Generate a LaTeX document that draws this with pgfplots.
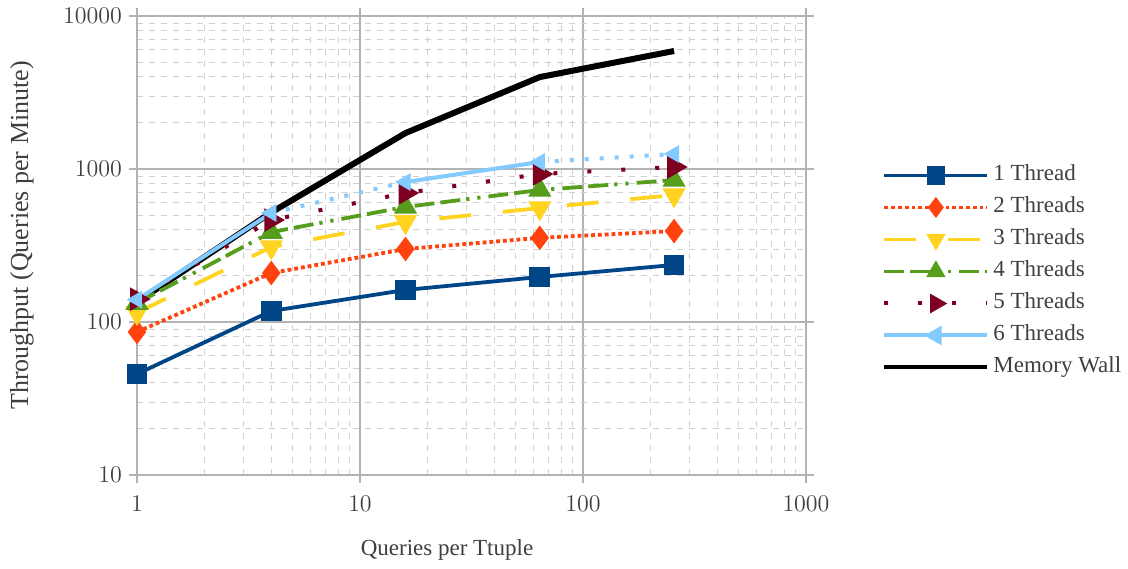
\documentclass[border=0pt]{standalone}
\usepackage{fontspec}
\setmainfont{Liberation Serif}
\usepackage{pgfplots}
\pgfplotsset{compat=1.18}
\definecolor{cA}{HTML}{004586}
\definecolor{cB}{HTML}{FF420E}
\definecolor{cC}{HTML}{FFD320}
\definecolor{cD}{HTML}{579D1C}
\definecolor{cE}{HTML}{7E0021}
\definecolor{cF}{HTML}{83CAFF}
\definecolor{txt}{HTML}{3F3F3F}
\definecolor{gridc}{HTML}{B3B3B3}
\definecolor{mgrid}{HTML}{D0D0D0}
\begin{document}
\begin{tikzpicture}
\useasboundingbox (-68.5pt,-46.5pt) rectangle (495.5pt,237.5pt);
\begin{axis}[
  at={(0,0)}, anchor=south west, scale only axis,
  width=334.5pt, height=229.5pt,
  xmode=log, ymode=log,
  xmin=1, xmax=1000, ymin=10, ymax=10000,
  log ticks with fixed point,
  /pgf/number format/1000 sep={},
  xtick={1,10,100,1000}, ytick={10,100,1000,10000},
  grid=both,
  major grid style={gridc, line width=0.6pt},
  minor grid style={mgrid, dashed, line width=0.5pt},
  axis line style={gridc, line width=0.6pt},
  tick style={gridc, line width=0.6pt},
  tick align=outside, major tick length=4pt, minor tick length=0pt,
  ticklabel style={font=\fontsize{11.5}{13}\selectfont, text=txt},
  xticklabel style={yshift=-3pt},
  xlabel={Queries per Ttuple},
  ylabel={Throughput (Queries per Minute)},
  every axis x label/.style={at={(axis description cs:0.4634,-0.1634)}, anchor=center, font=\fontsize{11.5}{13}\selectfont, text=txt},
  every axis y label/.style={at={(axis description cs:-0.172,0.5218)}, rotate=90, anchor=center, font=\fontsize{13}{15}\selectfont, text=txt},
  legend image code/.code={\draw[mark repeat=2,mark phase=2,#1, mark size=3.7pt] plot coordinates {(0pt,0pt) (25.75pt,0pt) (51.5pt,0pt)};},
  legend style={at={(axis description cs:1.1136,0.4434)}, anchor=west, draw=none, fill=none,
    inner sep=0pt, row sep=5.5pt, column sep=2pt,
    font=\fontsize{11.5}{13}\selectfont, text=txt,
    nodes={inner sep=0pt, text height=8pt, text depth=2.5pt}},
  legend cell align=left,
]
% Memory wall drawn first (beneath)
\addplot[black, line width=3pt, mark=none, forget plot] coordinates {(1,135) (4,520) (16,1718) (64,3990) (256,5906)};

\addplot[cA, line width=1.9pt, mark=square*, mark size=4.2pt, mark options={solid}] coordinates {(1,45.7) (4,118) (16,162) (64,197) (256,236)};
\addlegendentry{1 Thread}

\addplot[cB, line width=1.9pt, dash pattern=on 1.9pt off 1.5pt, mark=diamond*, mark size=4.6pt, mark options={solid}] coordinates {(1,86) (4,209) (16,300) (64,355) (256,393)};
\addlegendentry{2 Threads}

\addplot[cC, line width=1.9pt, dash pattern=on 16pt off 16pt, mark=triangle*, mark size=4.8pt, mark options={solid, rotate=180}] coordinates {(1,115) (4,309) (16,451) (64,556) (256,676)};
\addlegendentry{3 Threads}

\addplot[cD, line width=1.9pt, dash pattern=on 10pt off 3pt on 10pt off 3pt on 1.6pt off 4pt on 1.6pt off 4pt, mark=triangle*, mark size=4.8pt, mark options={solid}] coordinates {(1,133) (4,387) (16,565) (64,729) (256,847)};
\addlegendentry{4 Threads}

\addplot[cE, line width=2pt, dash pattern=on 2pt off 15pt, mark=triangle*, mark size=4.8pt, mark options={solid, rotate=-90}] coordinates {(1,141) (4,464) (16,697) (64,927) (256,1030)};
\addlegendentry{5 Threads}

% 6 Threads: segments with varying style, as in reference
\addplot[cF, line width=2pt, solid, mark=none, forget plot] coordinates {(1,140) (4,516)};
\addplot[cF, line width=2pt, dash pattern=on 2pt off 5.5pt, mark=none, forget plot] coordinates {(4,516) (16,822)};
\addplot[cF, line width=2pt, solid, mark=none, forget plot] coordinates {(16,822) (64,1111)};
\addplot[cF, line width=2pt, dash pattern=on 2pt off 5.5pt, mark=none, forget plot] coordinates {(64,1111) (256,1253)};
\addplot[cF, only marks, mark=triangle*, mark size=4.8pt, mark options={solid, rotate=90}, forget plot] coordinates {(1,140) (4,516) (16,822) (64,1111) (256,1253)};
\addlegendimage{cF, line width=2pt, solid, mark=triangle*, mark size=4.8pt, mark options={solid, rotate=90}}
\addlegendentry{6 Threads}

\addlegendimage{black, line width=2pt, mark=none}
\addlegendentry{Memory Wall}
\end{axis}
\end{tikzpicture}
\end{document}
